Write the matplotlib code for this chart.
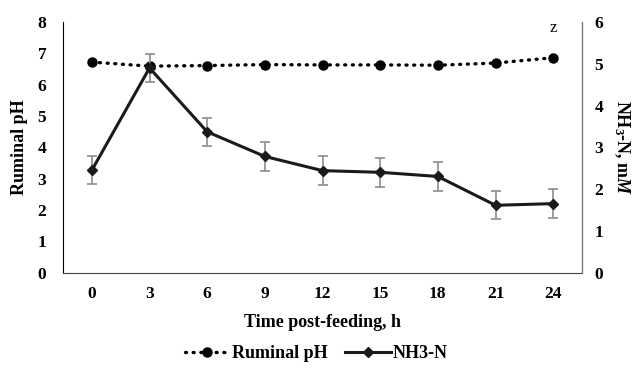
import numpy as np
import matplotlib
matplotlib.use('Agg')
import matplotlib.pyplot as plt

# ---------------------------------------------------------------- data
hours = ['0', '3', '6', '9', '12', '15', '18', '21', '24']
ruminal_ph = [6.72, 6.59, 6.61, 6.64, 6.63, 6.63, 6.62, 6.69, 6.86]
nh3_n = [2.45, 4.90, 3.37, 2.78, 2.44, 2.40, 2.30, 1.61, 1.65]
nh3_sem = [0.34, 0.34, 0.34, 0.34, 0.34, 0.34, 0.34, 0.34, 0.34]

# ---------------------------------------------------------------- style
plt.rcParams['font.family'] = ['Liberation Serif', 'DejaVu Serif']
plt.rcParams['font.weight'] = 'bold'
plt.rcParams['mathtext.fontset'] = 'custom'
plt.rcParams['mathtext.rm'] = 'Liberation Serif:bold'
plt.rcParams['mathtext.it'] = 'Liberation Serif:bold:italic'

fig = plt.figure(figsize=(6.32, 3.70), dpi=100)
ax = fig.add_axes([0.0997, 0.2635, 0.8213, 0.677])
ax2 = ax.twinx()

x = np.arange(len(hours))

l1, = ax.plot(x, ruminal_ph, color='black', linestyle=(0, (0.3, 2.0)),
              dash_capstyle='round', linewidth=2.4, marker='o',
              markersize=6.5, label='Ruminal pH', zorder=3)
ax2.errorbar(x, nh3_n, yerr=nh3_sem, fmt='none', ecolor='#8c8c8c',
             elinewidth=1.2, capsize=3.5, capthick=1.2, zorder=2)
l2, = ax2.plot(x, nh3_n, color='#1a1a1a', linewidth=2.2, marker='D',
               markersize=5, label='NH3-N', zorder=3)

ax.set_xlim(-0.5, len(hours) - 0.5)
ax.set_ylim(0, 8)
ax2.set_ylim(0, 6)
ax.set_xticks(x)
ax.set_xticklabels(hours)
ax.set_yticks(range(0, 9))
ax2.set_yticks(range(0, 7))

for a in (ax, ax2):
    a.spines['top'].set_visible(False)
    a.tick_params(length=0, labelsize=12.5)
ax.spines['left'].set_color('black')
ax.spines['bottom'].set_color('#444444')
ax2.spines['right'].set_color('#777777')
ax2.spines['left'].set_visible(False)
ax2.spines['bottom'].set_visible(False)
ax.tick_params(axis='y', pad=12)
ax.tick_params(axis='x', pad=10)
ax2.tick_params(axis='y', pad=9)

ax.set_ylabel('Ruminal pH', fontsize=13, fontweight='bold', labelpad=7)
ax.set_xlabel('Time post-feeding, h', fontsize=13, fontweight='bold',
              labelpad=8)
ax2.set_ylabel(r'NH$_3$-N, m$M$', fontsize=13, fontweight='bold',
               rotation=270, labelpad=20)

ax2.text(8, 5.85, 'z', ha='center', va='center', fontsize=12,
         fontweight='normal')

fig.legend(handles=[l1, l2], loc='center', bbox_to_anchor=(0.5, 0.045),
           ncol=2, frameon=False, fontsize=13, handlelength=2.5,
           columnspacing=1.0, handletextpad=0.1)

fig.savefig('out.png', dpi=100)
